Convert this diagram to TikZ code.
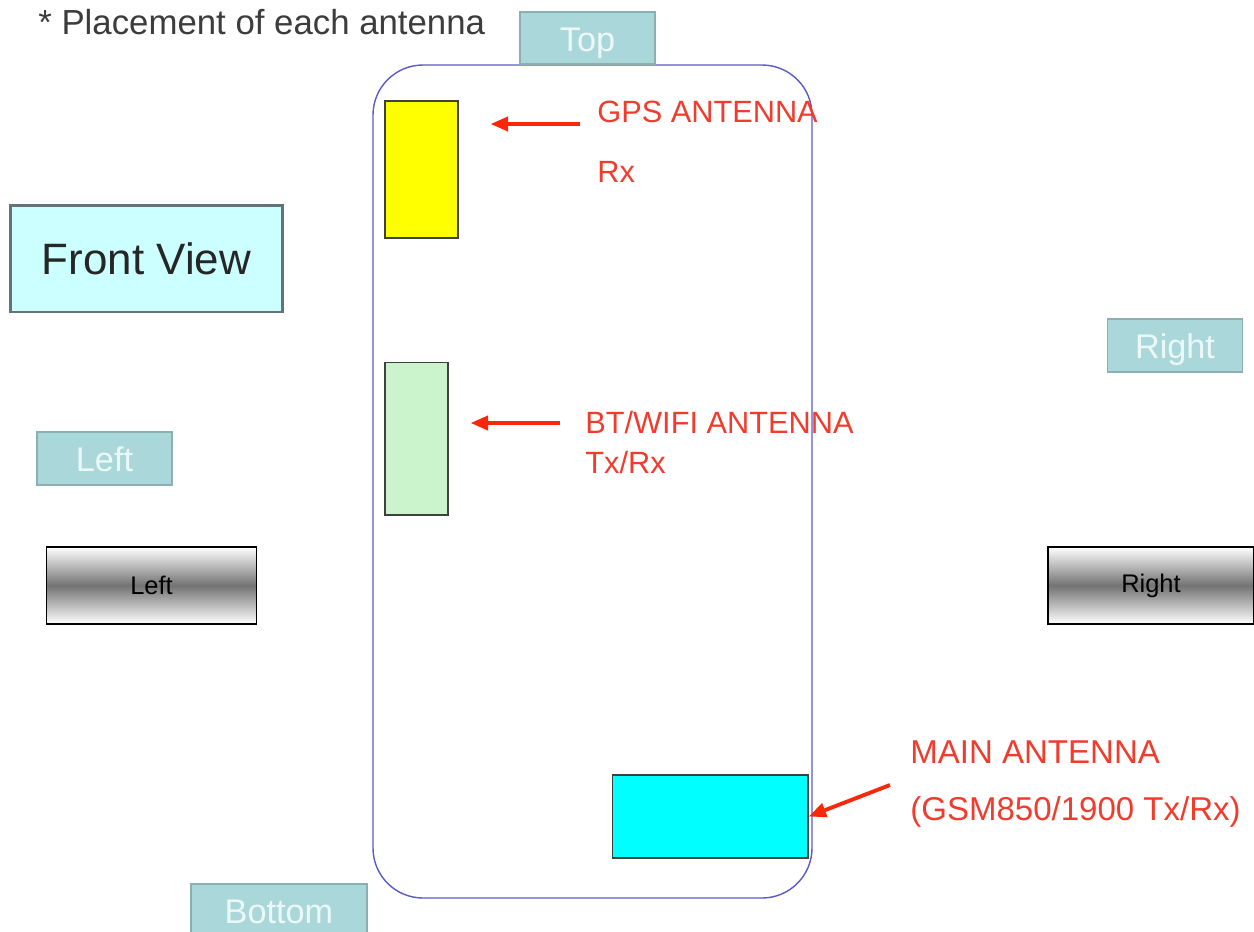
\documentclass[tikz,border=0pt]{standalone}
\usepackage{fontspec}
\setmainfont{Liberation Sans}
\usetikzlibrary{arrows.meta, positioning}
\definecolor{labred}{RGB}{240,60,45}
\definecolor{arrred}{RGB}{250,40,10}
\definecolor{phoneblue}{RGB}{90,90,200}
\definecolor{titlegray}{RGB}{60,60,60}
\definecolor{tabfill}{RGB}{170,216,218}
\definecolor{tabedge}{RGB}{140,176,176}
\definecolor{tabtext}{RGB}{236,247,247}
\definecolor{viewfill}{RGB}{204,255,255}
\definecolor{viewedge}{RGB}{100,115,115}
\definecolor{gpsyellow}{RGB}{255,255,0}
\definecolor{btgreen}{RGB}{204,244,204}
\definecolor{maincyan}{RGB}{0,255,255}
\tikzset{
  tab/.style={rectangle, draw=tabedge, fill=tabfill, line width=1.1pt,
    minimum width=2.7cm, minimum height=1.05cm, inner sep=0pt,
    text height=16pt, text depth=1pt,
    text=tabtext, font=\fontsize{19.5}{21}\selectfont},
  viewbox/.style={rectangle, draw=viewedge, fill=viewfill, line width=1.7pt,
    minimum width=5.46cm, minimum height=2.14cm,
    text=black!85, font=\fontsize{25}{28}\selectfont},
  sidebox/.style={rectangle, draw=black, line width=0.9pt,
    top color=white, bottom color=white, middle color=black!55,
    minimum width=4.2cm, minimum height=1.54cm,
    font=\fontsize{14.5}{16}\selectfont},
  antenna/.style={rectangle, draw=black!75, line width=0.6pt, inner sep=0pt},
  redlabel/.style={anchor=west, inner sep=0pt, text=labred,
    font=\fontsize{17.5}{20}\selectfont},
  redarrow/.style={-{Triangle[length=10pt,width=8pt]}, line width=2.2pt, color=arrred},
  phone/.style={draw=phoneblue, line width=0.8pt, rounded corners=1cm}
}
\begin{document}
\begin{tikzpicture}[x=0.02cm, y=-0.02cm]
  \useasboundingbox (0,0) rectangle (1254,931);

  \node[anchor=west, inner sep=0pt, text=titlegray, font=\fontsize{19.8}{22}\selectfont]
    (title) at (38,22) {* Placement of each antenna};

  % phone outline
  \draw[phone] (373,65) rectangle (812,898);

  % side tabs
  \node[tab] (top) at (587.5,38) {Top};
  \node[tab] (rtab) at (1175,345.5) {Right};
  \node[tab] (ltab) at (104.5,458.5) {Left};
  \node[tab, minimum width=3.52cm] (bottom) at (279,910) {Bottom};

  \node[viewbox] (front) at (146.5,258.5) {Front View};

  \node[sidebox] (lside) at (151.5,585.5) {Left};
  \node[sidebox, minimum width=4.12cm] (rside) at (1151,585.5) {Right};

  % antennas
  \node[antenna, fill=gpsyellow, minimum width=1.46cm, minimum height=2.74cm] (gps) at (421.5,169.5) {};
  \node[antenna, fill=btgreen, minimum width=1.26cm, minimum height=3.06cm] (bt) at (416.5,438.5) {};
  \node[antenna, fill=maincyan, minimum width=3.92cm, minimum height=1.66cm] (main) at (710,816.5) {};

  \node[redlabel] (gpslbl) at (597,112) {GPS ANTENNA};
  \node[redlabel] (gpsrx) at (597,172) {Rx};
  \node[redlabel] (btlbl) at (585,422) {BT/WIFI ANTENNA};
  \node[redlabel] (bttx) at (585,462) {Tx/Rx};
  \node[redlabel, font=\fontsize{18.8}{21}\selectfont] (mainlbl) at (910,752) {MAIN ANTENNA};
  \node[redlabel, font=\fontsize{18.8}{21}\selectfont] (maintx) at (910,812) {(GSM850/1900 Tx/Rx)};

  \coordinate (gpsarr) at (580,124);
  \coordinate (btarr) at (560,423);
  \coordinate (mainarr) at (890,785);
  \draw[redarrow, shorten >=0.64cm] (gpsarr) -- (gps.east |- gpsarr);
  \draw[redarrow, shorten >=0.44cm] (btarr) -- (bt.east |- btarr);
  \draw[redarrow] (mainarr) -- (main.east);
\end{tikzpicture}
\end{document}
